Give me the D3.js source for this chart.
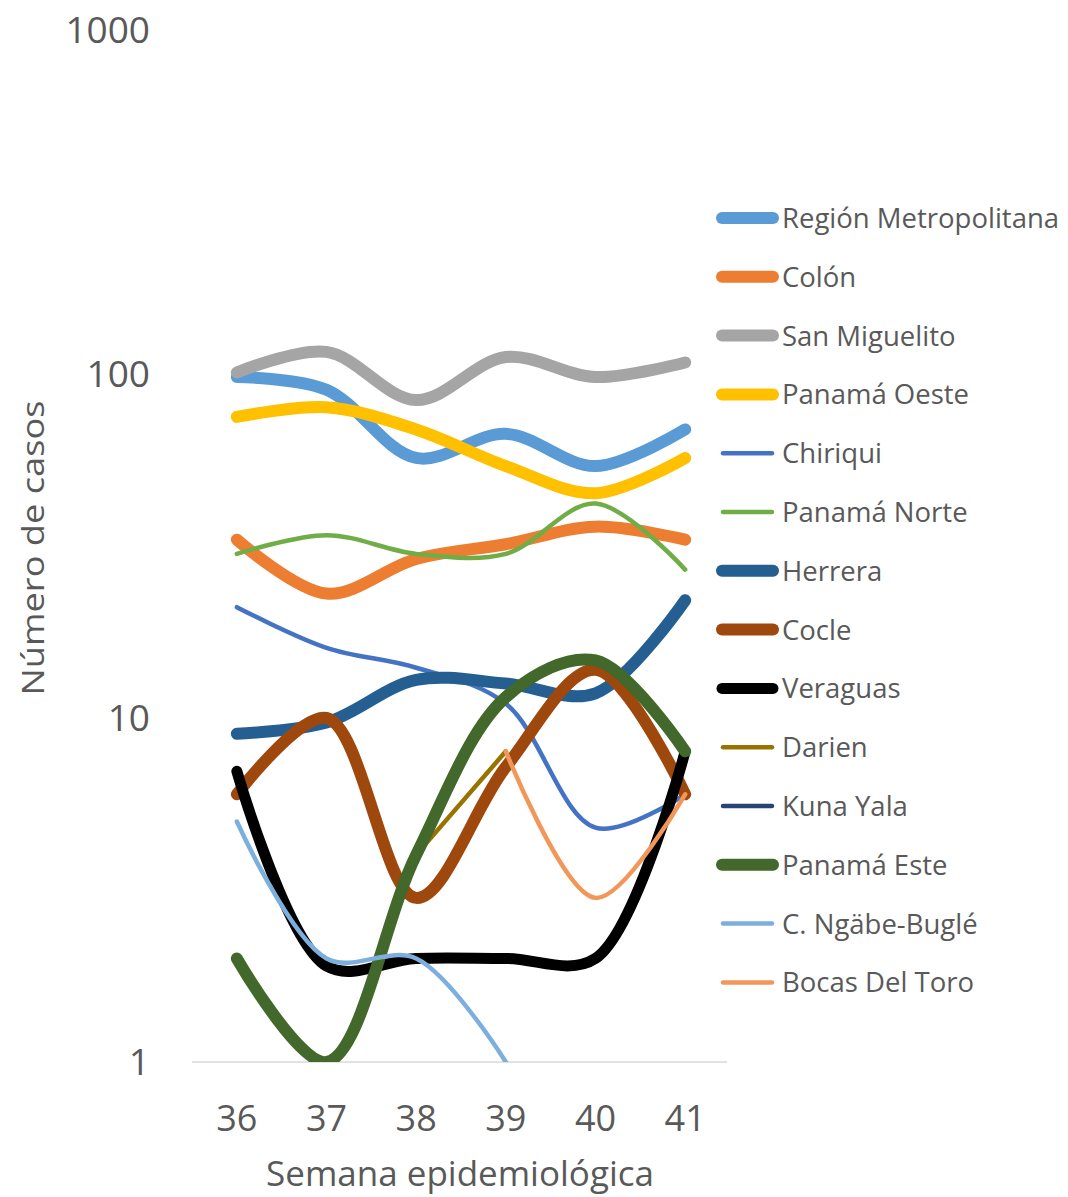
<!DOCTYPE html>
<html><head><meta charset="utf-8">
<script src="https://cdn.jsdelivr.net/npm/d3@7"></script>
<style>html,body{margin:0;padding:0;background:#fff;}svg{display:block;}</style>
</head><body>
<svg id="c" width="1068" height="1197"></svg>
<script>
const weeks = ["36","37","38","39","40","41"];
const yTicks = [1,10,100,1000];
const seriesNames = ["Región Metropolitana","Colón","San Miguelito","Panamá Oeste","Chiriqui","Panamá Norte","Herrera","Cocle","Veraguas","Darien","Kuna Yala","Panamá Este","C. Ngäbe-Buglé","Bocas Del Toro"];
const regionMetropolitana = [98,90,57,67,54,69];
const colon = [33,23,29,32,36,33];
const sanMiguelito = [101,116,84,112,98,108];
const panamaOeste = [75,80,69,54,45,57];
const chiriqui = [21,16,14,11,4.8,6];
const panamaNorte = [30,34,30,30,42,27];
const herrera = [9,9.7,12.9,12.6,11.8,22];
const cocle = [6,10,3,7.2,13.8,6];
const veraguas = [7,1.9,2,2,2,8];
const darien = [null,null,4,8,null,null];
const kunaYala = [null,null,null,null,null,null];
const panamaEste = [2,1,4,11.5,14.7,8];
const ngabeBugle = [5,2,2,1,null,null];
const bocasDelToro = [null,null,null,8,3,6];
const seriesValues = [regionMetropolitana,colon,sanMiguelito,panamaOeste,chiriqui,panamaNorte,herrera,cocle,veraguas,darien,kunaYala,panamaEste,ngabeBugle,bocasDelToro];

const colors = ["#5B9BD5","#ED7D31","#A5A5A5","#FFC000","#4472C4","#70AD47","#255E91","#9E480E","#000000","#997300","#264478","#43682B","#7CAFDD","#F1975A"];
const widths = [12,12,12,12,4.5,4.5,12,12,11,4.5,4.5,12,4.5,4.5];

const svg = d3.select("#c");
const font = "'Open Sans', sans-serif";
const txt = "#595959";
const plotLeft = 192, plotRight = 730, plotTop = 30, plotBottom = 1062;

const x = d3.scalePoint().domain(weeks).range([plotLeft, plotRight]).padding(0.5);
const y = d3.scaleLog().domain([1,1000]).range([plotBottom, plotTop]);

svg.append("defs").append("clipPath").attr("id","plot")
  .append("rect").attr("x",plotLeft-10).attr("y",0).attr("width",plotRight-plotLeft+20).attr("height",plotBottom);

svg.append("line").attr("x1",plotLeft).attr("x2",plotRight-3).attr("y1",plotBottom).attr("y2",plotBottom)
  .attr("stroke","#D9D9D9").attr("stroke-width",1.5);

svg.append("g").selectAll("text").data(yTicks).join("text")
  .attr("x",150).attr("y",d=>y(d)).attr("dy","0.36em")
  .attr("text-anchor","end").attr("font-family",font).attr("font-size",37).attr("fill",txt)
  .text(d=>d);

svg.append("g").selectAll("text").data(weeks).join("text")
  .attr("x",d=>x(d)).attr("y",1118).attr("dy","0.36em")
  .attr("text-anchor","middle").attr("font-family",font).attr("font-size",36).attr("fill",txt)
  .text(d=>d);

svg.append("text").attr("transform","translate(44,548) rotate(-90)")
  .attr("text-anchor","middle").attr("font-family",font).attr("font-size",31).attr("fill",txt)
  .attr("textLength",295).attr("lengthAdjust","spacingAndGlyphs")
  .text("Número de casos");
svg.append("text").attr("x",460).attr("y",1186)
  .attr("text-anchor","middle").attr("font-family",font).attr("font-size",35).attr("fill",txt)
  .text("Semana epidemiológica");

const line = d3.line()
  .defined(d=>d.v!=null)
  .x(d=>x(d.w)).y(d=>y(d.v))
  .curve(d3.curveCatmullRom.alpha(0.5));

const g = svg.append("g").attr("clip-path","url(#plot)");
seriesValues.forEach((vals,i)=>{
  const pts = vals.map((v,j)=>({w:weeks[j],v:v}));
  g.append("path").attr("d",line(pts)).attr("fill","none")
    .attr("stroke",colors[i]).attr("stroke-width",widths[i])
    .attr("stroke-linecap","round").attr("stroke-linejoin","round");
});

const lg = svg.append("g");
seriesNames.forEach((n,i)=>{
  const yy = 218 + i*58.8;
  const thick = widths[i] > 8;
  lg.append("line").attr("x1",thick?722:723).attr("x2",thick?773:772).attr("y1",yy).attr("y2",yy)
    .attr("stroke",colors[i]).attr("stroke-width",widths[i]).attr("stroke-linecap","round");
  lg.append("text").attr("x",782).attr("y",yy).attr("dy","0.36em")
    .attr("font-family",font).attr("font-size",27.5).attr("fill",txt).text(n);
});
</script>
</body></html>
